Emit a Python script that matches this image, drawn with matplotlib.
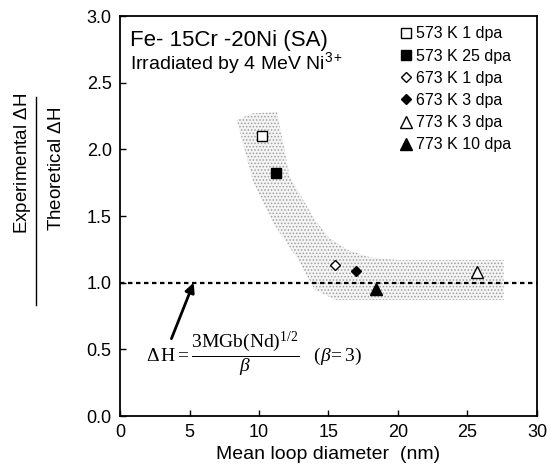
import matplotlib
matplotlib.use('Agg')
import matplotlib.pyplot as plt
from matplotlib.lines import Line2D

plt.rcParams['font.family'] = ['Liberation Sans', 'DejaVu Sans']
plt.rcParams['mathtext.fontset'] = 'custom'
plt.rcParams['mathtext.rm'] = 'Liberation Serif'
plt.rcParams['mathtext.it'] = 'Liberation Serif:italic'
plt.rcParams['mathtext.sf'] = 'Liberation Sans'
plt.rcParams['hatch.color'] = '#a0a0a0'
plt.rcParams['hatch.linewidth'] = 0.7

# loop diameter (nm) and hardening ratio for each irradiation condition
labels = ['573 K 1 dpa', '573 K 25 dpa', '673 K 1 dpa', '673 K 3 dpa', '773 K 3 dpa', '773 K 10 dpa']
diameter = [10.2, 11.2, 15.5, 16.95, 25.7, 18.4]
ratio = [2.10, 1.82, 1.13, 1.09, 1.08, 0.95]
markers = ['s', 's', 'D', 'D', '^', '^']
filled = [False, True, False, True, False, True]
sizes = [6.5, 6.5, 5.5, 5.5, 8, 8]

# outline of the scatter band
band_x = [8.4, 9.5, 11.3, 12.2, 13.9, 15.0, 16.3, 18.0, 20.0, 27.6,
          27.6, 15.5, 14.0, 12.7, 11.0, 9.6, 8.4]
band_y = [2.22, 2.27, 2.28, 1.80, 1.49, 1.34, 1.25, 1.19, 1.17, 1.17,
          0.87, 0.87, 0.95, 1.19, 1.45, 1.75, 2.22]

fig = plt.figure(figsize=(5.52, 4.75), dpi=100)
ax = fig.add_axes([0.2174, 0.1242, 0.7554, 0.8421])

ax.fill(band_x, band_y, facecolor='#f4f4f4', edgecolor='#a0a0a0', linewidth=0,
        hatch='.....', zorder=1)

ax.axhline(1.0, color='k', lw=1.6, linestyle=(0, (2, 1.6)), zorder=2)

for x, y, m, f, s, lab in zip(diameter, ratio, markers, filled, sizes, labels):
    ax.plot(x, y, linestyle='none', marker=m, markersize=s,
            markerfacecolor='k' if f else 'white', markeredgecolor='k',
            markeredgewidth=1.0, label=lab, zorder=3)

ax.set_xlim(0, 30)
ax.set_ylim(0, 3.0)
ax.set_xticks([0, 5, 10, 15, 20, 25, 30])
ax.set_yticks([0.0, 0.5, 1.0, 1.5, 2.0, 2.5, 3.0])
ax.set_yticklabels(['0.0', '0.5', '1.0', '1.5', '2.0', '2.5', '3.0'])
ax.tick_params(direction='in', length=4, width=1, labelsize=13, pad=6)
for sp in ax.spines.values():
    sp.set_linewidth(1.3)
ax.set_xlabel('Mean loop diameter  (nm)', fontsize=14, labelpad=3)

ax.text(0.024, 0.938, 'Fe- 15Cr -20Ni (SA)', transform=ax.transAxes,
        fontsize=16, va='center', ha='left')
ax.text(0.024, 0.882, r'Irradiated by 4 MeV Ni$\mathsf{^{3+}}$', transform=ax.transAxes,
        fontsize=14, va='center', ha='left')

leg = ax.legend(loc='upper left', bbox_to_anchor=(0.655, 0.99), frameon=False,
                fontsize=11.5, handlelength=0.8, handletextpad=0.25,
                labelspacing=0.45, borderaxespad=0)

ax.annotate('', xy=(5.3, 1.0), xytext=(3.7, 0.58),
            arrowprops=dict(arrowstyle='-|>', lw=2, color='k', mutation_scale=14,
                            shrinkA=0, shrinkB=0))
ax.text(1.9, 0.46, r'$\Delta\,\mathrm{H} = \dfrac{3\mathrm{MGb}(\mathrm{Nd})^{1/2}}{\beta}\quad(\beta\!=3)$',
        fontsize=14, va='center', ha='left')

# y label written as a fraction
fig.text(0.040, 0.655, r'Experimental $\mathsf{\Delta}$H', rotation=90,
         fontsize=13.5, va='center', ha='center')
fig.text(0.103, 0.645, r'Theoretical $\mathsf{\Delta}$H', rotation=90,
         fontsize=13.5, va='center', ha='center')
fig.add_artist(Line2D([0.0650, 0.0650], [1 - 305 / 475, 1 - 97 / 475],
                      transform=fig.transFigure, color='k', lw=1))

fig.savefig('out.png', dpi=100)
